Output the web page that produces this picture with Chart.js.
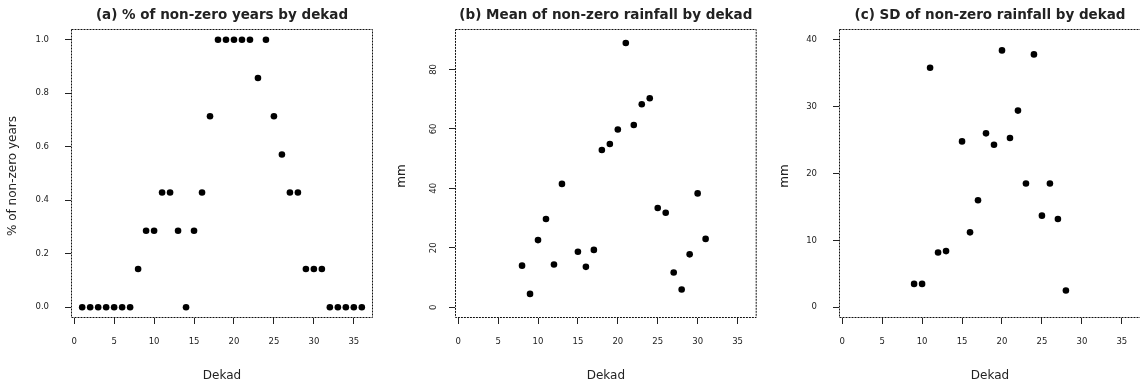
<!DOCTYPE html>
<html>
<head>
<meta charset="utf-8">
<script src="https://cdn.jsdelivr.net/npm/chart.js@4/dist/chart.umd.min.js"></script>
<style>
  html, body { margin: 0; padding: 0; background: #fff; overflow: hidden; }
  #wrap { position: relative; width: 1140px; height: 383px; overflow: hidden; background: #fff; }
  #wrap canvas { position: absolute; top: 0; }
</style>
</head>
<body>
<div id="wrap">
  <canvas id="pa" width="380" height="383" style="left:0px"></canvas>
  <canvas id="pb" width="380" height="383" style="left:380px"></canvas>
  <canvas id="pc" width="385" height="383" style="left:760px"></canvas>
</div>
<script>
// Dekads of the year (1..36)
const dekads = [1,2,3,4,5,6,7,8,9,10,11,12,13,14,15,16,17,18,19,20,21,22,23,24,25,26,27,28,29,30,31,32,33,34,35,36];

// (a) share of years with non-zero rainfall in each dekad
const pctNonZero = [0,0,0,0,0,0,0,0.143,0.286,0.286,0.429,0.429,0.286,0,0.286,0.429,0.714,1,1,1,1,1,0.857,1,0.714,0.571,0.429,0.429,0.143,0.143,0.143,0,0,0,0,0];

// (b) mean of non-zero rainfall (mm); null where no year had rain
const meanNonZero = [null,null,null,null,null,null,null,14.0,4.5,22.6,29.7,14.4,41.5,null,18.7,13.6,19.3,52.9,54.9,59.8,88.9,61.3,68.3,70.3,33.4,31.8,11.7,6.0,17.8,38.3,23.0,null,null,null,null,null];

// (c) SD of non-zero rainfall (mm); null where fewer than two rainy years
const sdNonZero = [null,null,null,null,null,null,null,null,3.5,3.5,35.8,8.2,8.4,null,24.8,11.2,16.0,26.0,24.3,38.4,25.3,29.4,18.5,37.8,13.7,18.5,13.2,2.5,null,null,null,null,null,null,null,null];

// Tick labels
const xTicks = [0,5,10,15,20,25,30,35];
const pctTicks = [0,0.2,0.4,0.6,0.8,1.0];
const meanTicks = [0,20,40,60,80];
const sdTicks = [0,10,20,30,40];

const TEXT = '#222';
const FONT = '"DejaVu Sans", "Liberation Sans", sans-serif';

function pointsOf(vals) {
  return dekads.map((d, i) => ({ x: d, y: vals[i] })).filter(p => p.y !== null);
}

// Dotted frame, titles, axis titles and (optionally) rotated y tick labels
function decor(opts) {
  return {
    id: 'decor',
    afterDraw(chart) {
      const { ctx, chartArea: a } = chart;
      ctx.save();
      ctx.strokeStyle = '#111';
      ctx.lineWidth = 1;
      ctx.setLineDash([2, 1]);
      ctx.strokeRect(a.left + 0.5, a.top + 0.5, a.right - a.left - 1, a.bottom - a.top - 1);
      ctx.setLineDash([]);

      const cx = (a.left + a.right) / 2;
      ctx.fillStyle = TEXT;
      ctx.textAlign = 'center';
      ctx.textBaseline = 'middle';
      ctx.font = 'bold 13.5px ' + FONT;
      ctx.fillText(opts.title, cx, 15);

      ctx.font = '12px ' + FONT;
      ctx.fillText('Dekad', cx, 376);

      ctx.save();
      ctx.translate(opts.yTitleX, 176);
      ctx.rotate(-Math.PI / 2);
      ctx.fillText(opts.yTitle, 0, 0);
      ctx.restore();

      if (opts.rotatedTicks) {
        const ys = chart.scales.y;
        ctx.font = '8.5px ' + FONT;
        opts.rotatedTicks.forEach(v => {
          ctx.save();
          ctx.translate(a.left - 21.7, ys.getPixelForValue(v));
          ctx.rotate(-Math.PI / 2);
          ctx.fillText(String(v), 0, 0);
          ctx.restore();
        });
      }
      ctx.restore();
    }
  };
}

function makePanel(id, vals, yMin, yMax, yTickVals, yFmt, pad, extra) {
  const rotated = !!extra.rotatedTicks;
  return new Chart(document.getElementById(id), {
    type: 'scatter',
    data: {
      datasets: [{
        data: pointsOf(vals),
        backgroundColor: '#000',
        borderWidth: 0,
        pointRadius: 3.3,
        pointHoverRadius: 3.3,
        pointStyle: 'circle'
      }]
    },
    options: {
      responsive: false,
      animation: false,
      devicePixelRatio: 1,
      layout: { padding: pad },
      plugins: { legend: { display: false }, tooltip: { enabled: false }, title: { display: false } },
      scales: {
        x: {
          type: 'linear',
          min: -0.4,
          max: 37.4,
          afterBuildTicks: s => { s.ticks = xTicks.map(v => ({ value: v })); },
          afterFit: s => { s.height = 40; },
          grid: { drawOnChartArea: false, drawTicks: true, tickLength: 6, tickColor: '#222', lineWidth: 1 },
          border: { display: false },
          ticks: { color: TEXT, font: { family: FONT, size: 8.5 }, padding: 13, maxRotation: 0, autoSkip: false,
                   callback: v => String(v) }
        },
        y: {
          type: 'linear',
          min: yMin,
          max: yMax,
          afterBuildTicks: s => { s.ticks = yTickVals.map(v => ({ value: v })); },
          afterFit: s => { s.width = 40; },
          grid: { drawOnChartArea: false, drawTicks: true, tickLength: 6, tickColor: '#222', lineWidth: 1 },
          border: { display: false },
          ticks: { display: !rotated, color: TEXT, font: { family: FONT, size: 8.5 }, padding: 16, autoSkip: false,
                   callback: yFmt }
        }
      }
    },
    plugins: [decor(extra)]
  });
}

makePanel('pa', pctNonZero, -0.04, 1.04, pctTicks, v => Number(v).toFixed(1),
  { left: 31, right: 7, top: 29, bottom: 25 },
  { title: '(a) % of non-zero years by dekad', yTitle: '% of non-zero years', yTitleX: 13.3 });

makePanel('pb', meanNonZero, -3.6, 93.6, meanTicks, v => String(v),
  { left: 35, right: 3, top: 29, bottom: 25 },
  { title: '(b) Mean of non-zero rainfall by dekad', yTitle: 'mm', yTitleX: 21.7, rotatedTicks: meanTicks });

makePanel('pc', sdNonZero, -1.6, 41.6, sdTicks, v => String(v),
  { left: 39, right: 4, top: 29, bottom: 25 },
  { title: '(c) SD of non-zero rainfall by dekad', yTitle: 'mm', yTitleX: 25 });
</script>
</body>
</html>
